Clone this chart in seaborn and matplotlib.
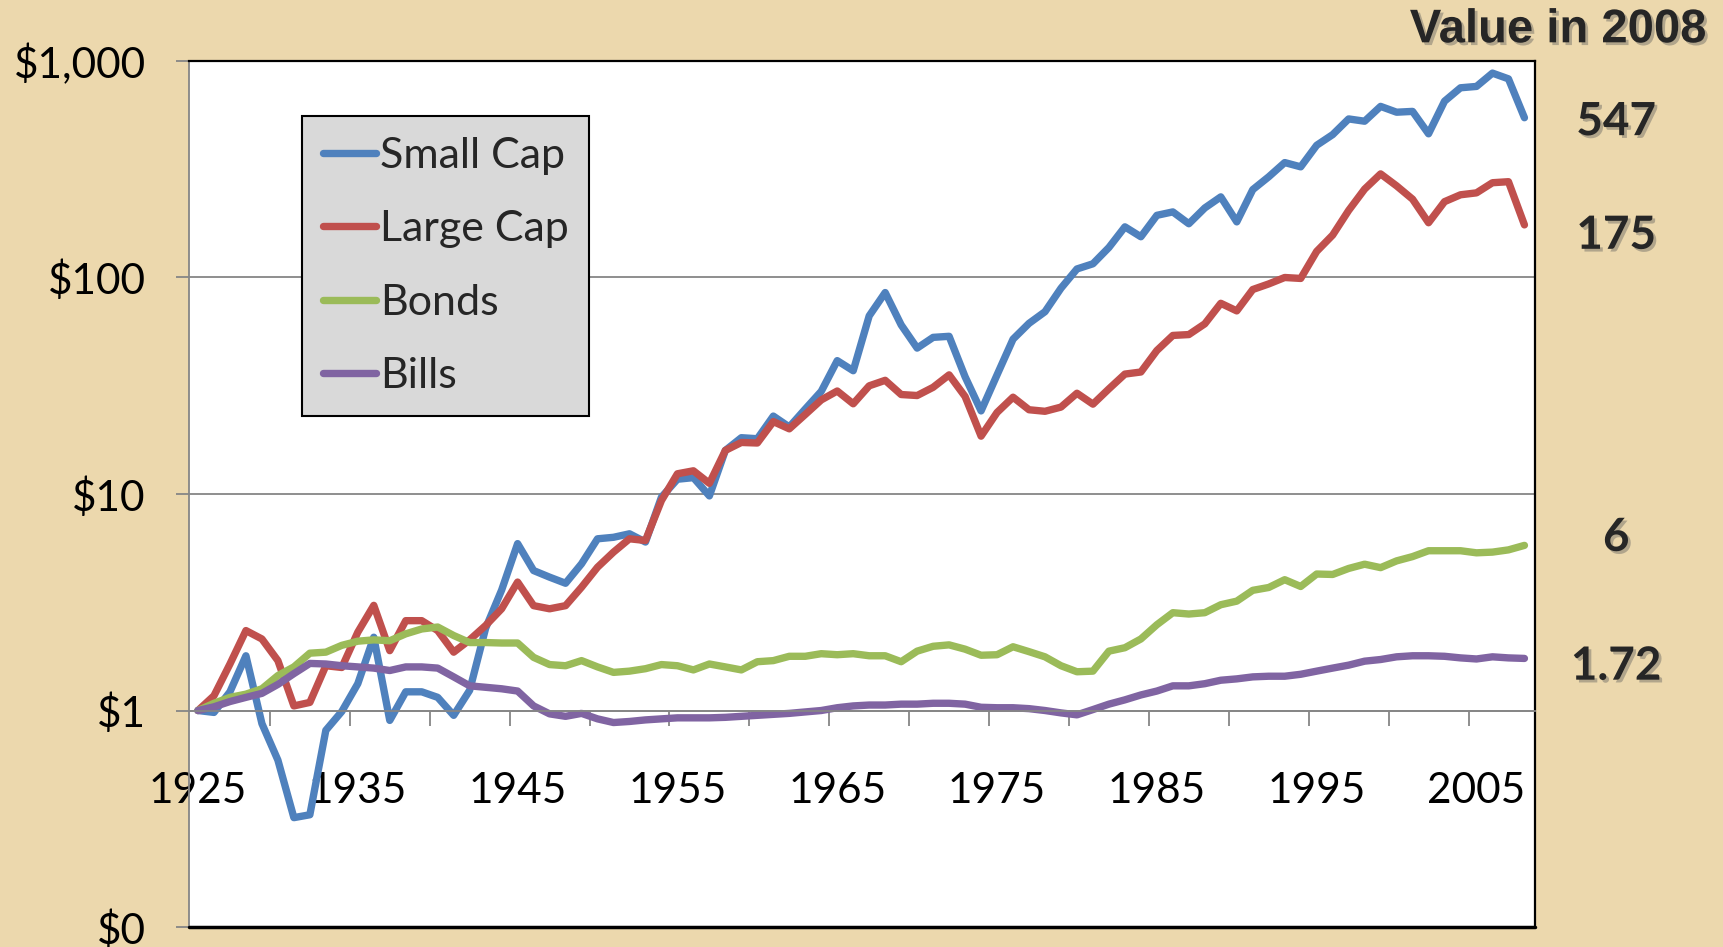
import matplotlib
matplotlib.use("Agg")
import numpy as np
import pandas as pd
import seaborn as sns
import matplotlib.pyplot as plt
from matplotlib import patheffects
from matplotlib.lines import Line2D
from matplotlib.ticker import FixedLocator, NullLocator

# growth of $1 invested at end of 1925
years = list(range(1925, 2009))

small_cap = [1.00, 0.98, 1.22, 1.79, 0.87, 0.59, 0.32, 0.33, 0.81, 0.99,
             1.33, 2.18, 0.90, 1.22, 1.22, 1.15, 0.95, 1.24, 2.40, 3.60,
             5.90, 4.43, 4.13, 3.87, 4.76, 6.21, 6.31, 6.55, 6.00, 9.67,
             11.7, 11.9, 9.80, 15.9, 18.2, 18.0, 22.9, 20.4, 24.7, 29.8,
             41.3, 37.1, 66.5, 85.2, 60.4, 47.2, 52.9, 53.5, 34.8, 24.2,
             35.5, 51.9, 61.4, 69.5, 89.2, 109.5, 115.7, 137.6, 171.4, 154.2,
             193.7, 200.9, 177.1, 209.5, 235.7, 180.7, 254.6, 291.9, 339.5, 324.4,
             408, 457, 540, 527, 617, 580, 585, 461, 652, 752,
             763, 879, 827, 547]

large_cap = [1.00, 1.17, 1.64, 2.34, 2.14, 1.70, 1.05, 1.09, 1.61, 1.58,
             2.30, 3.06, 1.89, 2.60, 2.60, 2.34, 1.86, 2.12, 2.47, 2.95,
             3.92, 3.05, 2.95, 3.05, 3.71, 4.59, 5.39, 6.21, 6.10, 9.33,
             12.4, 12.8, 11.2, 15.9, 17.3, 17.2, 21.6, 20.0, 23.3, 27.2,
             29.9, 26.1, 31.6, 33.5, 28.8, 28.5, 31.1, 35.5, 28.2, 18.5,
             23.8, 28.0, 24.5, 24.1, 25.2, 29.2, 26.0, 30.6, 35.8, 36.6,
             46.0, 54.0, 54.5, 61.1, 76.0, 70.1, 88.0, 93.4, 100, 99,
             132, 157, 204, 256, 301, 265, 230, 179, 224, 241,
             246, 274, 277, 175]

bonds = [1.00, 1.08, 1.15, 1.19, 1.26, 1.45, 1.59, 1.84, 1.86, 2.00,
         2.09, 2.12, 2.10, 2.26, 2.38, 2.43, 2.22, 2.06, 2.06, 2.05,
         2.05, 1.76, 1.63, 1.61, 1.70, 1.59, 1.50, 1.52, 1.56, 1.63,
         1.61, 1.54, 1.64, 1.59, 1.54, 1.68, 1.70, 1.78, 1.78, 1.83,
         1.81, 1.83, 1.79, 1.79, 1.68, 1.88, 1.98, 2.01, 1.92, 1.80,
         1.81, 1.97, 1.87, 1.77, 1.61, 1.51, 1.52, 1.88, 1.95, 2.14,
         2.49, 2.83, 2.79, 2.83, 3.08, 3.20, 3.59, 3.70, 4.02, 3.74,
         4.27, 4.25, 4.53, 4.74, 4.57, 4.91, 5.14, 5.47, 5.47, 5.47,
         5.35, 5.39, 5.52, 5.79]

bills = [1.00, 1.04, 1.10, 1.15, 1.20, 1.32, 1.48, 1.65, 1.64, 1.61,
         1.59, 1.57, 1.53, 1.59, 1.59, 1.57, 1.43, 1.30, 1.28, 1.26,
         1.23, 1.05, 0.965, 0.94, 0.97, 0.915, 0.88, 0.89, 0.905, 0.915,
         0.925, 0.925, 0.925, 0.93, 0.94, 0.95, 0.96, 0.97, 0.985, 1.00,
         1.03, 1.05, 1.06, 1.06, 1.07, 1.07, 1.08, 1.08, 1.07, 1.035,
         1.03, 1.03, 1.02, 1.00, 0.975, 0.955, 1.01, 1.07, 1.12, 1.18,
         1.23, 1.30, 1.30, 1.33, 1.38, 1.40, 1.43, 1.44, 1.44, 1.47,
         1.52, 1.57, 1.62, 1.69, 1.72, 1.77, 1.79, 1.79, 1.78, 1.75,
         1.73, 1.77, 1.75, 1.74]

series_names = ["Small Cap", "Large Cap", "Bonds", "Bills"]
series_colors = ["#4F81BD", "#C0504D", "#9BBB59", "#8064A2"]
end_labels = ["547", "175", "6", "1.72"]
end_label_y = [0.871, 0.751, 0.432, 0.296]

y_ticks = [0.1, 1, 10, 100, 1000]
y_tick_labels = ["$0", "$1", "$10", "$100", "$1,000"]
x_ticks = list(range(1925, 2006, 10))

df = pd.DataFrame({
    "Year": years * 4,
    "Value": small_cap + large_cap + bonds + bills,
    "Series": [s for s in series_names for _ in years],
})

sns.set_theme(style="white")
plt.rcParams["font.family"] = ["Lato", "DejaVu Sans"]

GRAY = "#868686"
LW = 5.3
fig = plt.figure(figsize=(17.23, 9.47), dpi=100, facecolor="#ECD8AD")
ax = fig.add_axes([0.1099, 0.0211, 0.7807, 0.9145])
ax.set_facecolor("white")

sns.lineplot(data=df, x="Year", y="Value", hue="Series", hue_order=series_names,
             palette=dict(zip(series_names, series_colors)), estimator=None,
             linewidth=LW, solid_capstyle="round", solid_joinstyle="round",
             ax=ax, legend=False)

ax.set_yscale("log")
ax.set_ylim(0.1, 1000)
ax.set_xlim(1924.46, 2008.63)
ax.set_xlabel("")
ax.set_ylabel("")

# y axis
ax.yaxis.set_major_locator(FixedLocator(y_ticks))
ax.yaxis.set_minor_locator(NullLocator())
ax.set_yticklabels(y_tick_labels)
ax.tick_params(axis="y", which="major", left=True, length=9.5, width=1.3,
               color=GRAY, pad=22, labelsize=30.5, labelcolor="black")
ax.grid(axis="y", which="major", color=GRAY, linewidth=1.3)
ax.grid(axis="x", visible=False)

# x axis sits on the $1 line, ticks between categories
ax.spines["bottom"].set_position(("data", 1))
ax.set_xticks(x_ticks)
ax.xaxis.set_minor_locator(FixedLocator(np.arange(1929.5, 2005, 5)))
ax.tick_params(axis="x", which="major", bottom=True, length=0, pad=44,
               labelsize=30.5, labelcolor="black")
ax.tick_params(axis="x", which="minor", bottom=True, length=11, width=1.3,
               color=GRAY, direction="out")

for side in ["bottom", "left"]:
    ax.spines[side].set_color(GRAY)
    ax.spines[side].set_linewidth(1.3)
for side in ["top", "right"]:
    ax.spines[side].set_color("black")
    ax.spines[side].set_linewidth(1.6)
ax.axhline(0.1, color="black", linewidth=2.5, clip_on=False, zorder=5)

handles = [Line2D([], [], color=c, linewidth=LW, solid_capstyle="round")
           for c in series_colors]
leg = ax.legend(handles, series_names, loc="upper left",
                bbox_to_anchor=(0.0837, 0.936), borderaxespad=0,
                fontsize=31, frameon=True, fancybox=False, framealpha=1,
                facecolor="#D9D9D9", edgecolor="black", handlelength=1.25,
                handletextpad=0.08, labelspacing=0.82, borderpad=0.48)
leg.get_frame().set_linewidth(1.5)

shadow = [patheffects.withSimplePatchShadow(offset=(2, -2),
                                             shadow_rgbFace="#5a5a5a", alpha=0.4)]
fig.text(0.9044, 0.968, "Value in 2008", ha="center", va="center",
         family=["Liberation Sans", "DejaVu Sans"], fontsize=34,
         fontweight="bold", path_effects=shadow)
for txt, yy in zip(end_labels, end_label_y):
    fig.text(0.938, yy, txt, ha="center", va="center", fontsize=33,
             fontweight="bold", path_effects=shadow)

fig.savefig("out.png", dpi=100, facecolor=fig.get_facecolor())
